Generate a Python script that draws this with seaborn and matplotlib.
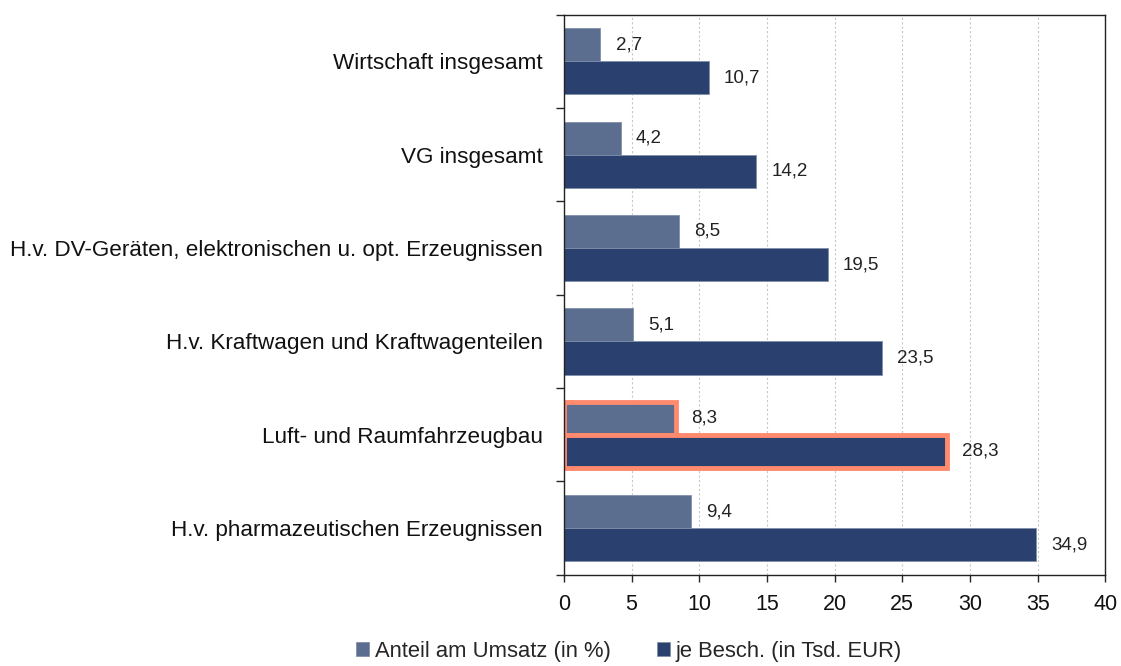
import pandas as pd
import matplotlib.pyplot as plt
import seaborn as sns

categories = ['Wirtschaft insgesamt', 'VG insgesamt',
              'H.v. DV-Geräten, elektronischen u. opt. Erzeugnissen',
              'H.v. Kraftwagen und Kraftwagenteilen',
              'Luft- und Raumfahrzeugbau',
              'H.v. pharmazeutischen Erzeugnissen']
anteil = [2.7, 4.2, 8.5, 5.1, 8.3, 9.4]
je_besch = [10.7, 14.2, 19.5, 23.5, 28.3, 34.9]
series = ['Anteil am Umsatz (in %)', 'je Besch. (in Tsd. EUR)']
highlight = 'Luft- und Raumfahrzeugbau'

df = pd.DataFrame({
    'Kategorie': categories * 2,
    'Wert': anteil + je_besch,
    'Reihe': [series[0]] * len(categories) + [series[1]] * len(categories),
})

sns.set_style('white')
plt.rcParams['font.family'] = ['Liberation Sans', 'DejaVu Sans']

fig = plt.figure(figsize=(11.21, 6.66), dpi=100)
ax = fig.add_axes([0.503, 0.137, 0.483, 0.841])

palette = {series[0]: '#5B6E8F', series[1]: '#2A416F'}
sns.barplot(data=df, x='Wert', y='Kategorie', hue='Reihe', orient='h',
            palette=palette, width=0.71, saturation=1, legend=True, ax=ax,
            edgecolor='#8090AA', linewidth=0.6)

hi = categories.index(highlight)
for cont in ax.containers:
    for i, bar in enumerate(cont):
        if i == hi:
            bar.set_edgecolor('#FF8A6E')
            bar.set_linewidth(3.5)
    ax.bar_label(cont, labels=[f'{v:.1f}'.replace('.', ',') for v in cont.datavalues],
                 padding=11, fontsize=13.5, color='#222222')

ax.set_xlim(0, 40)
ax.set_ylim(len(categories) - 0.5, -0.5)
ax.set_xticks(range(0, 41, 5))
ax.tick_params(axis='x', labelsize=15.5, length=5, pad=9, direction='out',
               bottom=True, width=1, labelcolor='#111111')
ax.xaxis.grid(True, linestyle=(0, (2, 2)), color='#C8C8C8', linewidth=0.8)
ax.set_axisbelow(True)

ax.set_yticks(range(len(categories)))
ax.set_yticklabels(categories, fontsize=16.2, color='#111111')
ax.tick_params(axis='y', length=0, pad=15)
ax.set_yticks([i + 0.5 for i in range(-1, len(categories))], minor=True)
ax.tick_params(axis='y', which='minor', length=6, left=True, direction='out', width=1)

for s in ax.spines.values():
    s.set_color('#222222')
    s.set_linewidth(1)
ax.set_xlabel('')
ax.set_ylabel('')

handles, labels = ax.get_legend_handles_labels()
ax.get_legend().remove()
fig.legend(handles, labels, loc='center', bbox_to_anchor=(0.561, 0.022), ncol=2,
           frameon=False, fontsize=15.8, handlelength=0.6, handleheight=0.6,
           handletextpad=0.25, columnspacing=2.1)

fig.savefig('out.png', dpi=100)
